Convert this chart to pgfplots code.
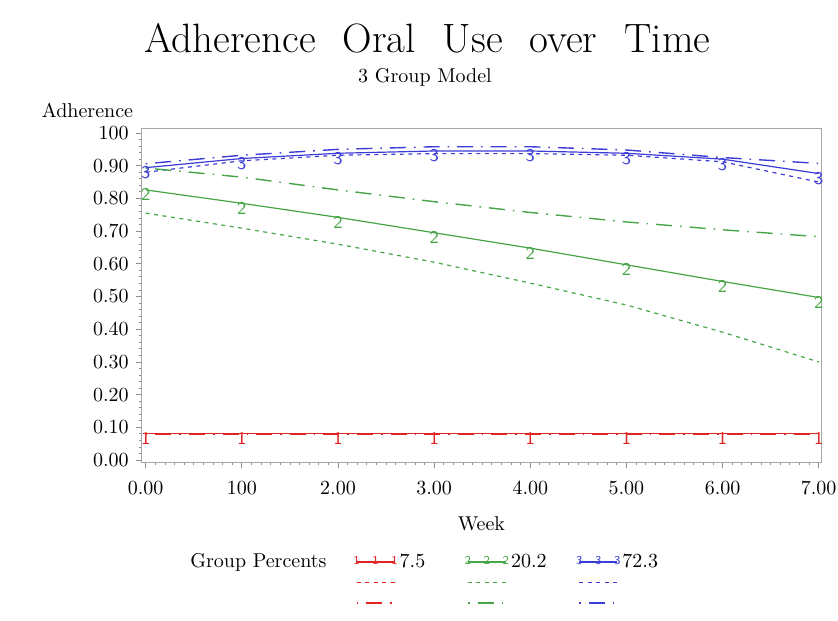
\documentclass[border=0pt]{standalone}
\usepackage{fontspec}
\usepackage{pgfplots}
\usepackage{pgfplotstable}
\pgfplotsset{compat=1.18}

\definecolor{sasred}{RGB}{225,35,35}
\definecolor{sasgreen}{RGB}{70,165,70}
\definecolor{sasblue}{RGB}{60,60,215}

% group 1 (7.5%)
\pgfplotstableread{
week solid dot dashdot
0 0.080 0.080 0.080
1 0.080 0.080 0.080
2 0.080 0.080 0.080
3 0.080 0.080 0.080
4 0.080 0.080 0.080
5 0.080 0.080 0.080
6 0.080 0.080 0.080
7 0.080 0.080 0.080
}\grpone

% group 2 (20.2%)
\pgfplotstableread{
week solid dot dashdot
0 0.826 0.755 0.893
1 0.785 0.709 0.865
2 0.742 0.660 0.826
3 0.695 0.605 0.790
4 0.648 0.541 0.757
5 0.597 0.474 0.728
6 0.546 0.391 0.704
7 0.497 0.300 0.683
}\grptwo

% group 3 (72.3%)
\pgfplotstableread{
week solid dot dashdot
0 0.894 0.880 0.906
1 0.922 0.915 0.932
2 0.938 0.932 0.950
3 0.945 0.937 0.958
4 0.945 0.937 0.958
5 0.938 0.932 0.948
6 0.920 0.912 0.925
7 0.876 0.850 0.907
}\grpthree

\pgfplotsset{
  solidm/.style={solid, line width=0.6pt, mark=text, text mark=#1,
    text mark as node=true,
    text mark style={font=\fontsize{9}{9}\selectfont\sffamily, yshift=-2.5pt,
      inner sep=0pt, anchor=center}},
  dotl/.style={line width=0.6pt, dash pattern=on 2pt off 2.25pt},
  dashdotl/.style={line width=0.7pt, dash pattern=on 0.8pt off 4pt on 8pt off 4pt},
  legmark/.style={text mark style={font=\fontsize{6}{6}\selectfont\sffamily,
      yshift=0pt, anchor=center, inner sep=0pt}},
}
\newcommand\ls{\rule[-2pt]{0pt}{9pt}}
\newcommand\tsp{\hspace{13.5pt}}

\begin{document}
\begin{tikzpicture}
\useasboundingbox (-70.85pt,-79pt) rectangle (348.15pt,231pt);
\begin{axis}[
  scale only axis,
  width=339.65pt, height=167pt,
  clip=false,
  xmin=-0.0416, xmax=7.024,
  ymin=-0.006, ymax=1.0153,
  xtick={0,1,2,3,4,5,6,7},
  xticklabels={0.00,100,2.00,3.00,4.00,5.00,6.00,7.00},
  ytick={0,0.1,0.2,0.3,0.4,0.5,0.6,0.7,0.8,0.9,1},
  yticklabels={0.00,0.10,0.20,0.30,0.40,0.50,0.60,0.70,0.80,0.90,100},
  minor x tick num=9, minor y tick num=4,
  xtick pos=bottom, ytick pos=left,
  tick align=outside, major tick length=3pt, minor tick length=1.5pt,
  axis line style={black!35},
  every tick/.style={black!45},
  tick label style={font=\fontsize{10}{12}\selectfont},
  xticklabel style={yshift=-3pt},
  title={Adherence\tsp Oral\tsp Use\tsp over\tsp Time},
  every axis title/.style={at={(0.4207,1.2275)}, anchor=base,
    font=\fontsize{20.5}{24}\selectfont},
  xlabel={Week},
  every axis x label/.style={at={(0.5,-0.2036)}, anchor=base,
    font=\fontsize{10}{12}\selectfont},
  ylabel={Adherence},
  every axis y label/.style={at={(-0.0798,1.03)}, anchor=base,
    font=\fontsize{10}{12}\selectfont},
  legend image code/.code={\draw[mark repeat=1,mark phase=1,#1]
    plot coordinates {(0pt,0pt) (9.5pt,0pt) (19pt,0pt)};},
  legend columns=4,
  legend style={draw=none, fill=none, inner sep=0pt, row sep=0.75pt,
    at={(0.0681,-0.2695)}, anchor=north west,
    nodes={inner xsep=1pt, inner ysep=0.5pt},
    /tikz/every even column/.append style={column sep=5.5pt},
    font=\fontsize{10}{12}\selectfont},
  legend cell align=left,
]
\node[font=\fontsize{10}{12}\selectfont, anchor=base]
  at (rel axis cs:0.417,1.1377) {3 Group Model};

\addplot[sasblue, dotl, forget plot] table[x=week,y=dot]{\grpthree};
\addplot[sasblue, dashdotl, forget plot] table[x=week,y=dashdot]{\grpthree};
\addplot[sasblue, solidm=3, forget plot] table[x=week,y=solid]{\grpthree};

\addplot[sasgreen, dotl, forget plot] table[x=week,y=dot]{\grptwo};
\addplot[sasgreen, dashdotl, forget plot] table[x=week,y=dashdot]{\grptwo};
\addplot[sasgreen, solidm=2, forget plot] table[x=week,y=solid]{\grptwo};

\addplot[sasred, solidm=1, forget plot] table[x=week,y=solid]{\grpone};
\addplot[sasred, dotl, forget plot] table[x=week,y=dot]{\grpone};
\addplot[sasred, dashdotl, forget plot] table[x=week,y=dashdot]{\grpone};

% legend: row 1 solid with marks, row 2 dotted, row 3 dash-dot
\addlegendimage{empty legend}
\addlegendentry{\ls\makebox[75pt][l]{Group Percents}}
\addlegendimage{sasred, solidm=1, legmark}
\addlegendentry{\ls\makebox[26pt][l]{7.5}}
\addlegendimage{sasgreen, solidm=2, legmark}
\addlegendentry{\ls\makebox[26pt][l]{20.2}}
\addlegendimage{sasblue, solidm=3, legmark}
\addlegendentry{\ls\makebox[26pt][l]{72.3}}

\addlegendimage{empty legend}
\addlegendentry{\ls}
\addlegendimage{sasred, dotl}
\addlegendentry{\ls}
\addlegendimage{sasgreen, dotl}
\addlegendentry{\ls}
\addlegendimage{sasblue, dotl}
\addlegendentry{\ls}

\addlegendimage{empty legend}
\addlegendentry{\ls}
\addlegendimage{sasred, dashdotl}
\addlegendentry{\ls}
\addlegendimage{sasgreen, dashdotl}
\addlegendentry{\ls}
\addlegendimage{sasblue, dashdotl}
\addlegendentry{\ls}
\end{axis}
\end{tikzpicture}
\end{document}
